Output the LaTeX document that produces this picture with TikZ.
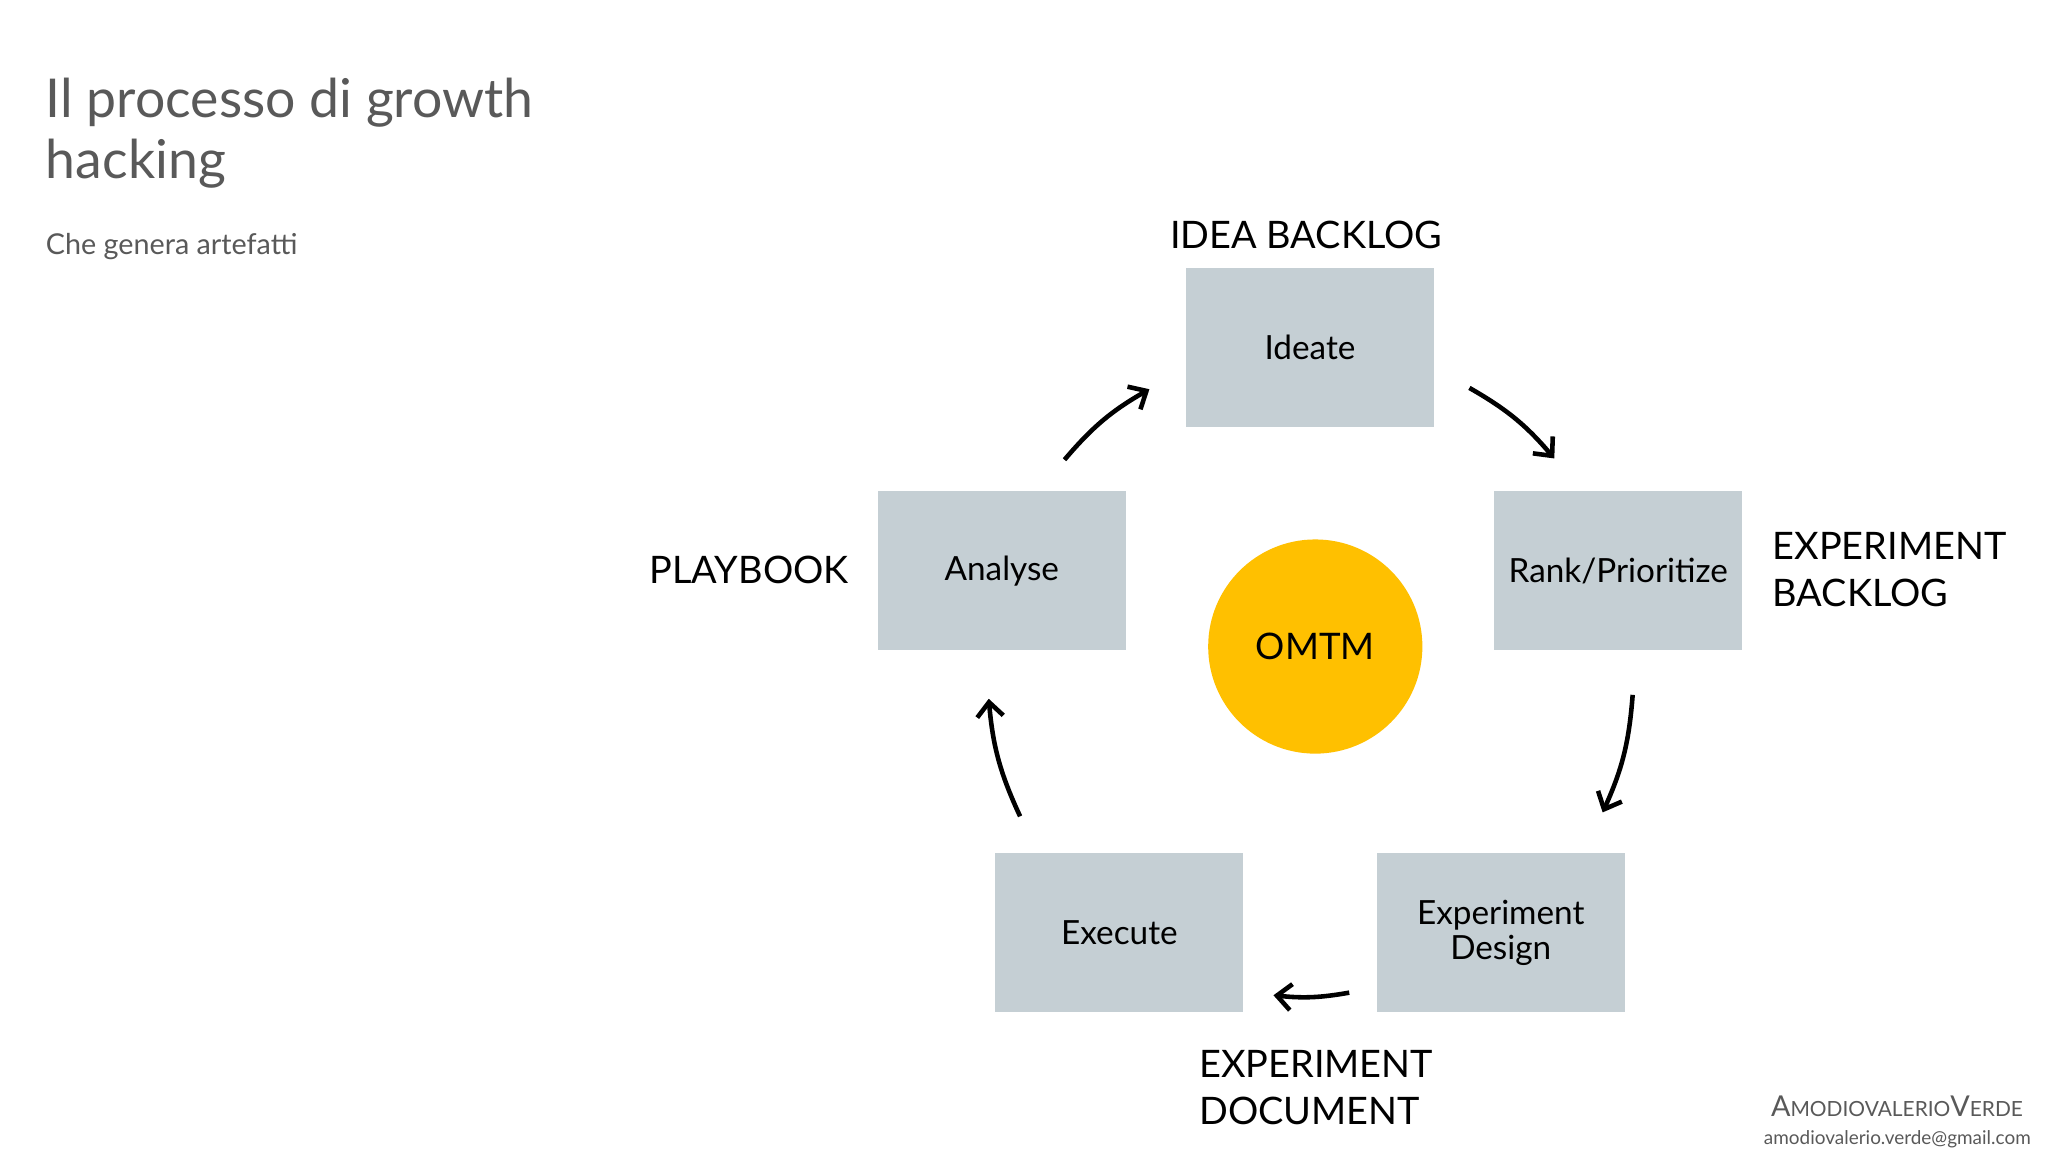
\documentclass[tikz,border=0pt]{standalone}
\usepackage{fontspec}
\setmainfont{Lato}
\usetikzlibrary{arrows.meta}
\definecolor{boxc}{HTML}{C5CFD4}
\definecolor{omtm}{HTML}{FFC000}
\definecolor{tgray}{HTML}{595959}
\begin{document}
\begin{tikzpicture}[x=1pt,y=-1pt,
  box/.style={fill=boxc,minimum width=190pt,minimum height=122pt,inner sep=0pt,font=\fontsize{25.5}{27}\selectfont,align=center,text=black},
  lab/.style={font=\fontsize{29}{36}\selectfont,text=black,inner sep=0pt},
  arr/.style={line width=3.5pt,-{Straight Barb[length=11pt,width=20pt,line width=3.5pt]}}]
\useasboundingbox[fill=white] (0,0) rectangle (1568,882);
\node[anchor=base west,text=tgray,inner sep=0pt,font=\fontsize{41}{48}\selectfont] (t1) at (35,90) {Il processo di growth};
\node[anchor=base west,text=tgray,inner sep=0pt,font=\fontsize{41}{48}\selectfont] (t2) at (35,137) {hacking};
\node[anchor=base west,text=tgray,inner sep=0pt,font=\fontsize{22}{24}\selectfont] (sub) at (35,195) {Che genera artefatti};
\node[box] (ideate) at (1003,266) {Ideate};
\node[box] (rank) at (1239,437) {Rank/Prioritize};
\node[box] (analyse) at (767,437) {Analyse};
\node[box] (execute) at (857,714) {Execute};
\node[box] (design) at (1149,714) {Experiment\\Design};
\node[circle,fill=omtm,minimum size=164pt,inner sep=0pt,font=\fontsize{28}{30}\selectfont] (omtm) at (1007,495) {OMTM};
\node[lab,anchor=base] (l1) at (1000,190) {IDEA BACKLOG};
\node[lab,anchor=base east] (l2) at (650,447) {PLAYBOOK};
\node[lab,anchor=west,align=left] (l3) at (1357,436) {EXPERIMENT\\BACKLOG};
\node[lab,anchor=west,align=left] (l4) at (918,833) {EXPERIMENT\\DOCUMENT};
\coordinate (a1s) at (1125,297); \coordinate (a1e) at (1190,351);
\coordinate (a2s) at (1250,532); \coordinate (a2e) at (1227,622);
\coordinate (a3s) at (1033,760); \coordinate (a3e) at (975,762);
\coordinate (a4s) at (781,625); \coordinate (a4e) at (757,535);
\coordinate (a5s) at (815,352); \coordinate (a5e) at (880,298);
\draw[arr] (a1s) to[bend left=10] (a1e);
\draw[arr] (a2s) to[bend left=10] (a2e);
\draw[arr] (a3s) to[bend left=8] (a3e);
\draw[arr] (a4s) to[bend left=10] (a4e);
\draw[arr] (a5s) to[bend left=10] (a5e);
\node[anchor=base east,text=tgray,inner sep=0pt,font=\fontsize{22}{24}\selectfont] (brand) at (1549,855) {A{\fontsize{16}{18}\selectfont MODIOVALERIO}V{\fontsize{16}{18}\selectfont ERDE}};
\node[anchor=base east,text=tgray,inner sep=0pt,font=\fontsize{14.5}{16}\selectfont] (mail) at (1555,876) {amodiovalerio.verde@gmail.com};
\end{tikzpicture}
\end{document}
